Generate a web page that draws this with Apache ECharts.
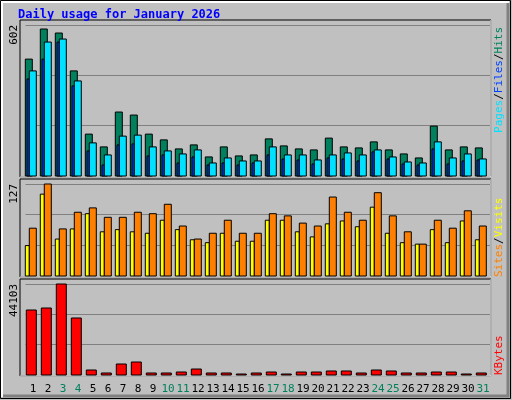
<!DOCTYPE html>
<html><head><meta charset="utf-8">
<script src="https://cdn.jsdelivr.net/npm/echarts@6/dist/echarts.min.js"></script>
<style>html,body{margin:0;padding:0;background:#C0C0C0}#c{width:512px;height:400px}</style>
</head><body><div id="c"></div>
<script>
const days = ['1','2','3','4','5','6','7','8','9','10','11','12','13','14','15','16','17','18','19','20','21','22','23','24','25','26','27','28','29','30','31'];
const weekend = ['3','4','10','11','17','18','24','25','31'];
const hits = [466,586,570,419,167,116,255,243,167,144,108,124,76,116,80,84,148,120,108,104,151,116,112,136,104,88,72,199,104,116,112];
const files = [419,534,546,379,132,84,159,163,116,100,88,104,52,72,60,60,116,84,84,64,84,92,84,104,76,56,52,136,72,88,68];
const pages = [387,466,534,359,100,44,124,128,80,84,52,76,44,52,44,52,84,68,64,48,72,68,60,96,68,48,44,108,48,60,64];
const sites = [42,113,51,65,86,61,64,61,59,77,64,50,46,59,48,48,77,77,61,54,72,76,68,95,59,46,44,64,46,76,50];
const visits = [66,127,65,88,94,81,81,88,86,99,69,51,59,77,59,59,86,83,73,69,109,88,77,115,83,61,44,77,66,90,69];
const kbytes = [31500,32470,44103,27625,2420,970,5330,6300,970,970,1450,2900,970,970,480,970,1450,480,1450,1450,1940,1940,970,2420,1940,970,970,1450,1450,480,970];
const yMax = [602,127,44103];

const chart = echarts.init(document.getElementById('c'));
function barSeries(name, data, g, x0, x1, color){
  return {type:'custom', name, xAxisIndex:g, yAxisIndex:g, data:data.map((v,i)=>[i,v]), z:x0<-5?2:3,
    renderItem:(p,api)=>{const top=api.coord([api.value(0),api.value(1)]);const base=api.coord([api.value(0),0]);
      return {type:'rect',shape:{x:top[0]+x0,y:top[1],width:x1-x0,height:base[1]-top[1]},
        style:{fill:color,stroke:'#000',lineWidth:1}};}};
}
const mono='DejaVu Sans Mono';
const grids=[{left:25.5,width:465,top:25,height:151},{left:25.5,width:465,top:184,height:92},{left:25.5,width:465,top:284,height:91}];
const xAxis=grids.map((g,i)=>({type:'category',gridIndex:i,data:days,boundaryGap:true,
  axisLine:{show:false},axisTick:{show:false},
  axisLabel:{show:i===2,interval:0,margin:9,fontFamily:mono,fontSize:11,
    formatter:v=>weekend.includes(v)?'{w|'+v+'}':'{d|'+v+'}',
    rich:{w:{color:'#00805C',fontFamily:mono,fontSize:11},d:{color:'#000',fontFamily:mono,fontSize:11}}}}));
const yAxis=grids.map((g,i)=>({type:'value',gridIndex:i,min:0,max:yMax[i],interval:yMax[i]/3,
  axisLabel:{show:false},axisLine:{show:false},axisTick:{show:false},
  splitLine:{show:true,lineStyle:{color:'#808080',width:1}}}));
function vtext(x,y,align,rich,text){return {type:'text',x,y,rotation:Math.PI/2,z:10,
  style:{text,rich,fontFamily:mono,fontSize:11,align,verticalAlign:'middle',fill:'#000'}};}
const rects=[[20,20,471,157],[20,179,471,98],[20,279,471,97]];
const frames=rects.map(r=>({type:'rect',z:0,
  shape:{x:r[0],y:r[1],width:r[2],height:r[3]},style:{fill:'#C0C0C0',stroke:'#000',lineWidth:1}}));
const frameHi=rects.map(r=>({type:'polyline',z:1,
  shape:{points:[[r[0],r[1]+r[3]],[r[0]+r[2],r[1]+r[3]],[r[0]+r[2],r[1]]]},style:{stroke:'#fff',lineWidth:1,fill:null}}));
chart.setOption({animation:false,backgroundColor:'#C0C0C0',grid:grids,xAxis,yAxis,
  graphic:[
    {type:'rect',z:-1,shape:{x:0.5,y:0.5,width:510,height:398},style:{fill:'#C0C0C0',stroke:'#000'}},
    {type:'polyline',z:-1,shape:{points:[[2,397],[2,2],[509,2]]},style:{stroke:'#fff',lineWidth:2,fill:null}},
    {type:'polyline',z:-1,shape:{points:[[3,396],[508,396],[508,3]]},style:{stroke:'#808080',lineWidth:3,fill:null}},
    ...frames,...frameHi,
    {type:'text',x:18,y:15,z:10,style:{text:'Daily usage for January 2026',fontFamily:mono,fontSize:12,fontWeight:'bold',fill:'#0000FF',verticalAlign:'middle'}},
    vtext(14,25,'right',{},String(yMax[0])),
    vtext(14,184,'right',{},String(yMax[1])),
    vtext(14,284,'right',{},String(yMax[2])),
    vtext(499,27,'right',{p:{fill:'#00E0FF',fontFamily:mono,fontSize:11},s:{fill:'#000',fontFamily:mono,fontSize:11},f:{fill:'#0040FF',fontFamily:mono,fontSize:11},h:{fill:'#00805C',fontFamily:mono,fontSize:11}},'{p|Pages}{s|/}{f|Files}{s|/}{h|Hits}'),
    vtext(499,277,'left',{a:{fill:'#FF8000',fontFamily:mono,fontSize:11},s:{fill:'#000',fontFamily:mono,fontSize:11},b:{fill:'#FFFF00',fontFamily:mono,fontSize:11}},'{a|Sites}{s|/}{b|Visits}'),
    vtext(499,375,'left',{k:{fill:'#FF0000',fontFamily:mono,fontSize:11}},'{k|KBytes}')
  ],
  series:[
    barSeries('Hits',hits,0,-7.7,-0.7,'#00805C'),
    barSeries('Files',files,0,-3.7,3.3,'#00E0FF'),
    barSeries('Pages',pages,0,-6,-3.7,'#0040FF'),
    barSeries('Sites',sites,1,-7.7,-3.7,'#FFFF00'),
    barSeries('Visits',visits,1,-3.7,3.3,'#FF8000'),
    barSeries('KBytes',kbytes,2,-6.7,3.3,'#FF0000')
  ]});
</script></body></html>
